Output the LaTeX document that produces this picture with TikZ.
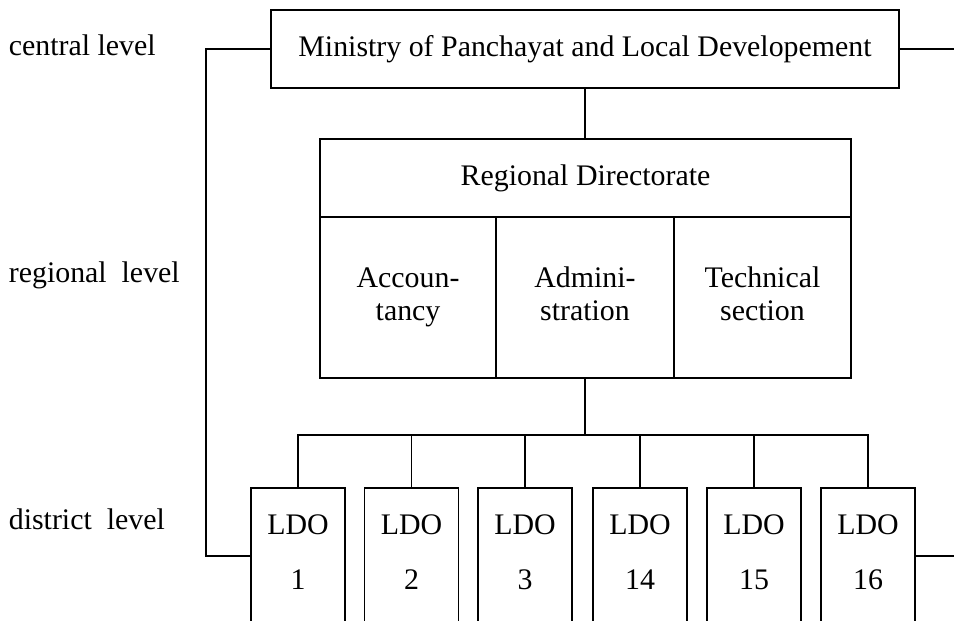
\documentclass[tikz,border=0pt]{standalone}
\usepackage{fontspec}
\setmainfont{Liberation Serif}
\usetikzlibrary{positioning}

\begin{document}
\begin{tikzpicture}[
  x=0.02cm, y=-0.02cm,
  font=\fontsize{17}{19}\selectfont,
  line width=1pt,
  box/.style={draw,align=center,inner sep=0pt,outer sep=0pt},
  unit/.style={box,minimum width=3.52cm,minimum height=3.22cm},
  ldo/.style={box,minimum width=1.88cm,minimum height=2.72cm},
  lvl/.style={anchor=base west,inner sep=0pt}
]
\clip (0,0) rectangle (954,621);
% levels
\node[lvl] (central) at (8,56) {central level};
\node[lvl] (regional) at (8,283) {regional \ level};
\node[lvl] (district) at (8,530) {district \ level};
% ministry
\node[box,minimum width=12.56cm,minimum height=1.56cm] (ministry) at (585,49) {Ministry of Panchayat and Local Developement};
% regional directorate
\node[box,minimum width=10.62cm,minimum height=1.56cm] (regdir) at (585.5,178) {Regional Directorate};
\node[unit,below right=0pt and 0pt of regdir.south west] (acc) {Accoun-\strut\\tancy\strut};
\node[unit,minimum width=3.56cm,right=0pt of acc] (adm) {Admini-\strut\\stration\strut};
\node[unit,minimum width=3.54cm,right=0pt of adm] (tec) {Technical\strut\\section\strut};
% district offices
\node[ldo] (ldo1) at (298,556) {LDO\\[12pt]1\rule[-4.5pt]{0pt}{0pt}};
\node[ldo] (ldo2) at (411.5,556) {LDO\\[12pt]2\rule[-4.5pt]{0pt}{0pt}};
\node[ldo] (ldo3) at (525,556) {LDO\\[12pt]3\rule[-4.5pt]{0pt}{0pt}};
\node[ldo] (ldo14) at (640,556) {LDO\\[12pt]14\rule[-4.5pt]{0pt}{0pt}};
\node[ldo] (ldo15) at (754,556) {LDO\\[12pt]15\rule[-4.5pt]{0pt}{0pt}};
\node[ldo] (ldo16) at (868,556) {LDO\\[12pt]16\rule[-4.5pt]{0pt}{0pt}};
\coordinate (bus) at (585,435);
\coordinate (rim) at (954,0);
\coordinate (spine) at (206,0);
% connectors
\draw (ministry.south) -- (ministry.south |- regdir.north);
\draw (adm.south) -- (adm.south |- bus);
\foreach \n in {1,2,3,14,15,16}
  \draw (ldo\n.north) |- (bus);
\draw (ministry.west) -- (ministry.west -| spine) -- (ldo1.west -| spine) -- (ldo1.west);
\draw (ministry.east) -- (ministry.east -| rim);
\draw (ldo16.east) -- (ldo16.east -| rim);
\end{tikzpicture}
\end{document}
